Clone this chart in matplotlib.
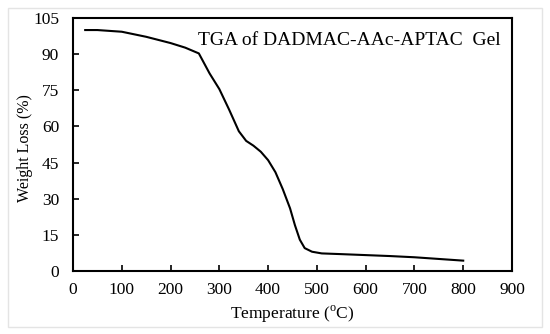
import matplotlib
matplotlib.use("Agg")
import matplotlib.pyplot as plt
from matplotlib.patches import Rectangle

plt.rcParams['font.family'] = ['Liberation Serif', 'DejaVu Serif']
plt.rcParams['mathtext.fontset'] = 'custom'
plt.rcParams['mathtext.rm'] = 'Liberation Serif'

# values
temp = [25, 50, 100, 150, 200, 230, 258, 280, 300, 320, 340, 355, 370, 385,
        400, 415, 430, 445, 455, 465, 475, 490, 510, 550, 600, 650, 700, 750, 800]
weight = [100, 100, 99.3, 97.2, 94.6, 92.7, 90.3, 82, 75.5, 67, 58, 54, 52, 49.5,
          46, 41, 34, 26, 19, 13, 9.5, 8, 7.3, 7, 6.6, 6.2, 5.7, 5.0, 4.3]
xticks = list(range(0, 901, 100))
yticks = list(range(0, 106, 15))

fig = plt.figure(figsize=(5.5, 3.34), dpi=100)
ax = fig.add_axes([73/550, 1 - 271/334, (512-73)/550, (271-18)/334])

ax.plot(temp, weight, color='black', lw=1.5)
ax.set_xlim(0, 900)
ax.set_ylim(0, 105)
ax.set_xticks(xticks)
ax.set_yticks(yticks)
ax.tick_params(direction='in', length=4, width=1.2, labelsize=12.5, pad=8)
ax.tick_params(axis='y', pad=10)
for s in ax.spines.values():
    s.set_linewidth(1.5)

ax.set_xlabel('Temperature ($^{\\mathregular{o}}$C)', fontsize=12.5, labelpad=4)
ax.set_ylabel('Weight Loss (%)', fontsize=11.5)
ax.yaxis.set_label_coords(-0.092, 0.486)
ax.text(0.973, 0.913, 'TGA of DADMAC-AAc-APTAC  Gel', transform=ax.transAxes,
        ha='right', va='center', fontsize=14)

fig.patches.append(Rectangle((8/550, 7/334), 534/550, 319/334, transform=fig.transFigure,
                             fill=False, edgecolor='#e4e4e4', lw=1))

fig.savefig('out.png', dpi=100)
